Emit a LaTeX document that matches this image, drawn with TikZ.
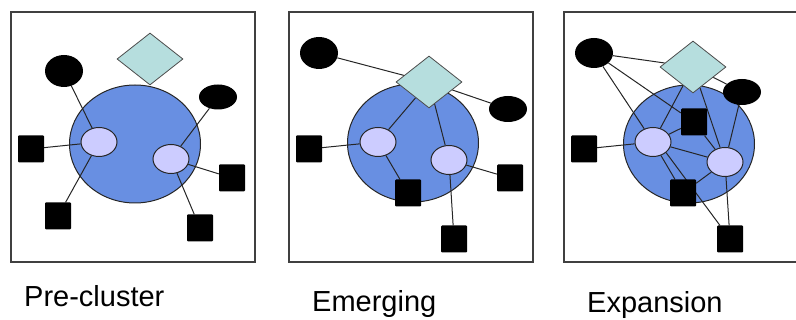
\documentclass[tikz,border=0pt]{standalone}
\usepackage{fontspec}
\setmainfont{Liberation Sans}
\usetikzlibrary{shapes.geometric}
\definecolor{clusterblue}{RGB}{104,143,226}
\definecolor{firmfill}{RGB}{204,204,255}
\definecolor{govfill}{RGB}{182,222,222}
\pgfdeclarelayer{bg}
\pgfdeclarelayer{mid}
\pgfsetlayers{bg,mid,main}
\begin{document}
\begin{tikzpicture}[x=1pt,y=-1pt,
  frame/.style={draw=black!75,line width=1.5pt},
  cluster/.style={ellipse,draw=black!85,line width=1pt,fill=clusterblue,minimum width=131pt,minimum height=118pt,inner sep=0pt},
  firm/.style={ellipse,draw=black!85,line width=1pt,fill=firmfill,minimum width=36pt,minimum height=29pt,inner sep=0pt},
  blob/.style={ellipse,fill=black,minimum width=38pt,minimum height=#1,inner sep=0pt},
  blob/.default=31pt,
  sq/.style={rectangle,fill=black,rounded corners=1pt,minimum width=26pt,minimum height=27pt,inner sep=0pt},
  gov/.style={diamond,draw=black!70,line width=0.8pt,fill=govfill,minimum width=66pt,minimum height=52pt,inner sep=0pt},
  link/.style={draw=black!85,line width=1pt},
  lbl/.style={font=\fontsize{29}{34}\selectfont,anchor=base west,inner sep=0pt}
]
\useasboundingbox (0,0) rectangle (796,320);
% frames
\draw[frame] (11,12) rectangle (255,262);
\draw[frame] (289,12) rectangle (533,262);
\draw[frame] (796,12) -- (564,12) -- (564,262) -- (796,262);

% ---------- Panel 1: Pre-cluster
\begin{pgfonlayer}{bg}
\node[cluster] (a1c) at (135,144) {};
\end{pgfonlayer}
\node[gov] (a1d) at (150,59) {};
\node[blob=32pt] (a1e1) at (64,71) {};
\node[blob=25pt] (a1e2) at (218,97) {};
\node[firm] (a1f1) at (99,142) {};
\node[firm] (a1f2) at (171,159) {};
\node[sq] (a1s1) at (31,149) {};
\node[sq] (a1s2) at (58,216) {};
\node[sq] (a1s3) at (232,178) {};
\node[sq] (a1s4) at (200,228) {};
\begin{pgfonlayer}{mid}
\draw[link] (a1e1) -- (a1f1);
\draw[link] (a1s1) -- (a1f1);
\draw[link] (a1s2) -- (a1f1);
\draw[link] (a1e2) -- (a1f2);
\draw[link] (a1s3) -- (a1f2);
\draw[link] (a1s4) -- (a1f2);
\end{pgfonlayer}

% ---------- Panel 2: Emerging
\begin{pgfonlayer}{bg}
\node[cluster] (b2c) at (413,143) {};
\end{pgfonlayer}
\node[gov] (b2d) at (429,82) {};
\node[blob=32pt] (b2e1) at (319,53) {};
\node[blob=26pt] (b2e2) at (508,109) {};
\node[firm] (b2f1) at (378,142) {};
\node[firm] (b2f2) at (449,160) {};
\node[sq] (b2s1) at (309,149) {};
\node[sq] (b2s2) at (408,193) {};
\node[sq] (b2s3) at (510,178) {};
\node[sq] (b2s4) at (454,239) {};
\begin{pgfonlayer}{mid}
\draw[link] (b2e1) -- (b2d);
\draw[link] (b2d) -- (b2e2);
\draw[link] (b2d) -- (b2f1);
\draw[link] (b2d) -- (b2f2);
\draw[link] (b2s1) -- (b2f1);
\draw[link] (b2f1) -- (b2s2);
\draw[link] (b2f2) -- (b2s3);
\draw[link] (b2f2) -- (b2s4);
\end{pgfonlayer}

% ---------- Panel 3: Expansion
\begin{pgfonlayer}{bg}
\node[cluster] (c3c) at (689,144) {};
\end{pgfonlayer}
\node[gov] (c3d) at (693,67) {};
\node[blob=30pt] (c3e1) at (594,53) {};
\node[blob=26pt] (c3e2) at (742,92) {};
\node[firm] (c3f1) at (653,142) {};
\node[firm] (c3f2) at (725,162) {};
\node[sq] (c3s1) at (584,149) {};
\node[sq] (c3s2) at (694,122) {};
\node[sq] (c3s3) at (683,193) {};
\node[sq] (c3s4) at (730,239) {};
\begin{pgfonlayer}{mid}
\draw[link] (c3e1) -- (c3d);
\draw[link] (c3e1) -- (c3f1);
\draw[link] (c3e1) -- (c3s2);
\draw[link] (c3d) -- (c3f1);
\draw[link] (c3d) -- (c3f2);
\draw[link] (c3d) -- (c3e2);
\draw[link] (c3e2) -- (c3f2);
\draw[link] (c3s2) -- (c3f1);
\draw[link] (c3s2) -- (c3f2.center);
\draw[link] (c3f1) -- (c3f2);
\draw[link] (c3f1.south east) -- (c3s4);
\draw[link] (c3f1) -- (c3s3);
\draw[link] (c3s3) -- (c3f2);
\draw[link] (c3f2) -- (c3s4);
\draw[link] (c3s1) -- (c3f1);
\end{pgfonlayer}

% labels
\node[lbl] (t1) at (24,307) {Pre-cluster};
\node[lbl] (t2) at (312,312) {Emerging};
\node[lbl] (t3) at (587,313) {Expansion};
\end{tikzpicture}
\end{document}
